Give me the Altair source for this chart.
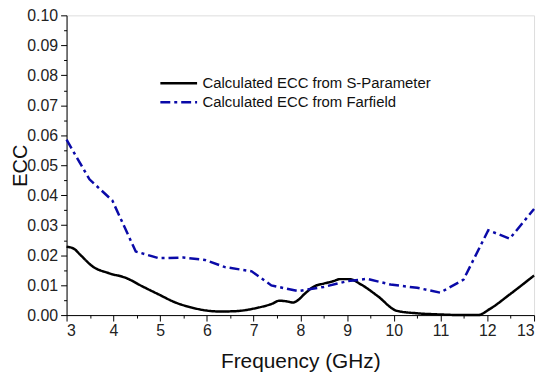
import altair as alt
import pandas as pd

s_freq = [3.0, 3.15, 3.3, 3.56, 3.9, 4.27, 4.62, 4.97, 5.33, 5.68, 6.0, 6.3, 6.6, 7.1, 7.4,
          7.55, 7.7, 7.85, 7.95, 8.1, 8.3, 8.5, 8.7, 8.85, 9.05, 9.3, 9.65, 10.07, 10.5,
          11.0, 11.5, 11.8, 12.05, 12.48, 13.0]
s_ecc = [0.0228, 0.0222, 0.0200, 0.0162, 0.0140, 0.0124, 0.0096, 0.0069, 0.0042, 0.0025,
         0.0015, 0.0012, 0.0013, 0.0025, 0.0038, 0.0048, 0.0046, 0.0042, 0.0050, 0.0072,
         0.0096, 0.0105, 0.0113, 0.0120, 0.0120, 0.0102, 0.0064, 0.0014, 0.0006, 0.0002,
         0.0, 0.0, 0.0020, 0.0069, 0.0132]

f_freq = [3.0, 3.49, 3.98, 4.48, 4.97, 5.5, 5.96, 6.39, 6.96, 7.38, 7.95, 8.5, 9.0, 9.43,
          9.93, 10.5, 10.99, 11.49, 12.02, 12.48, 13.0]
f_ecc = [0.0585, 0.0453, 0.0382, 0.0212, 0.0190, 0.0192, 0.0184, 0.0160, 0.0146, 0.0099,
         0.0080, 0.0094, 0.0113, 0.0121, 0.0102, 0.0091, 0.0075, 0.0118, 0.0283, 0.0255,
         0.0354]

S_NAME = "Calculated ECC from S-Parameter"
F_NAME = "Calculated ECC from Farfield"

df = pd.concat([
    pd.DataFrame({"freq": s_freq, "ecc": s_ecc, "series": S_NAME}),
    pd.DataFrame({"freq": f_freq, "ecc": f_ecc, "series": F_NAME}),
])

x_ticks = [3 + 0.5 * i for i in range(21)]
y_ticks = [round(0.005 * i, 3) for i in range(21)]

FONT = "Liberation Sans"

x_enc = alt.X("freq:Q", scale=alt.Scale(domain=[3, 13], nice=False, zero=False),
              axis=alt.Axis(values=x_ticks, title="Frequency (GHz)",
                            labelExpr="datum.value % 1 ? '' : format(datum.value, 'd')",
                            tickSize={"condition": {"test": "datum.value % 1", "value": 3}, "value": 6},
                            grid=False, domainColor="#000", tickColor="#000",
                            labelFontSize=16, labelColor="#222", labelPadding=2,
                            titleFontSize=21, titleFontWeight="normal", titleColor="#111",
                            titlePadding=12))
y_enc = alt.Y("ecc:Q", scale=alt.Scale(domain=[0, 0.1], nice=False),
              axis=alt.Axis(values=y_ticks, title="ECC",
                            labelExpr="round(datum.value*1000) % 10 ? '' : format(datum.value, '.2f')",
                            tickSize={"condition": {"test": "round(datum.value*1000) % 10", "value": 3}, "value": 6},
                            grid=False, domainColor="#000", tickColor="#000",
                            labelFontSize=16, labelColor="#222", labelPadding=3,
                            titleFontSize=20, titleFontWeight="normal", titleColor="#111",
                            titleX=-46, titleY=151, titleAngle=270, titleAlign="center",
                            titleBaseline="middle"))

color = alt.Color("series:N", scale=alt.Scale(domain=[S_NAME, F_NAME], range=["#000000", "#0a0aa8"]),
                  legend=alt.Legend(title=None, orient="none", legendX=93, legendY=60,
                                    symbolType="stroke", symbolSize=1369, symbolStrokeWidth=2.5,
                                    labelFontSize=15, labelColor="#111", labelFont=FONT,
                                    labelLimit=400, clipHeight=17, rowPadding=2, labelOffset=4))
dash = alt.StrokeDash("series:N", scale=alt.Scale(domain=[S_NAME, F_NAME], range=[[1, 0], [10, 4, 3, 4]]),
                      legend=None)

base = alt.Chart(df).encode(x=x_enc, y=y_enc, color=color, strokeDash=dash)
s_line = base.transform_filter(alt.datum.series == S_NAME).mark_line(strokeWidth=2.5, interpolate="monotone")
f_line = base.transform_filter(alt.datum.series == F_NAME).mark_line(strokeWidth=2.5)

chart = alt.layer(s_line, f_line).properties(
    width=471, height=302,
    autosize=alt.AutoSizeParams(type="none"),
    padding={"left": 59, "top": 6, "right": 8, "bottom": 63},
).configure_view(stroke=None).configure(font=FONT, background="white")

chart.save("out.html", embed_options={"renderer": "svg", "actions": False})
